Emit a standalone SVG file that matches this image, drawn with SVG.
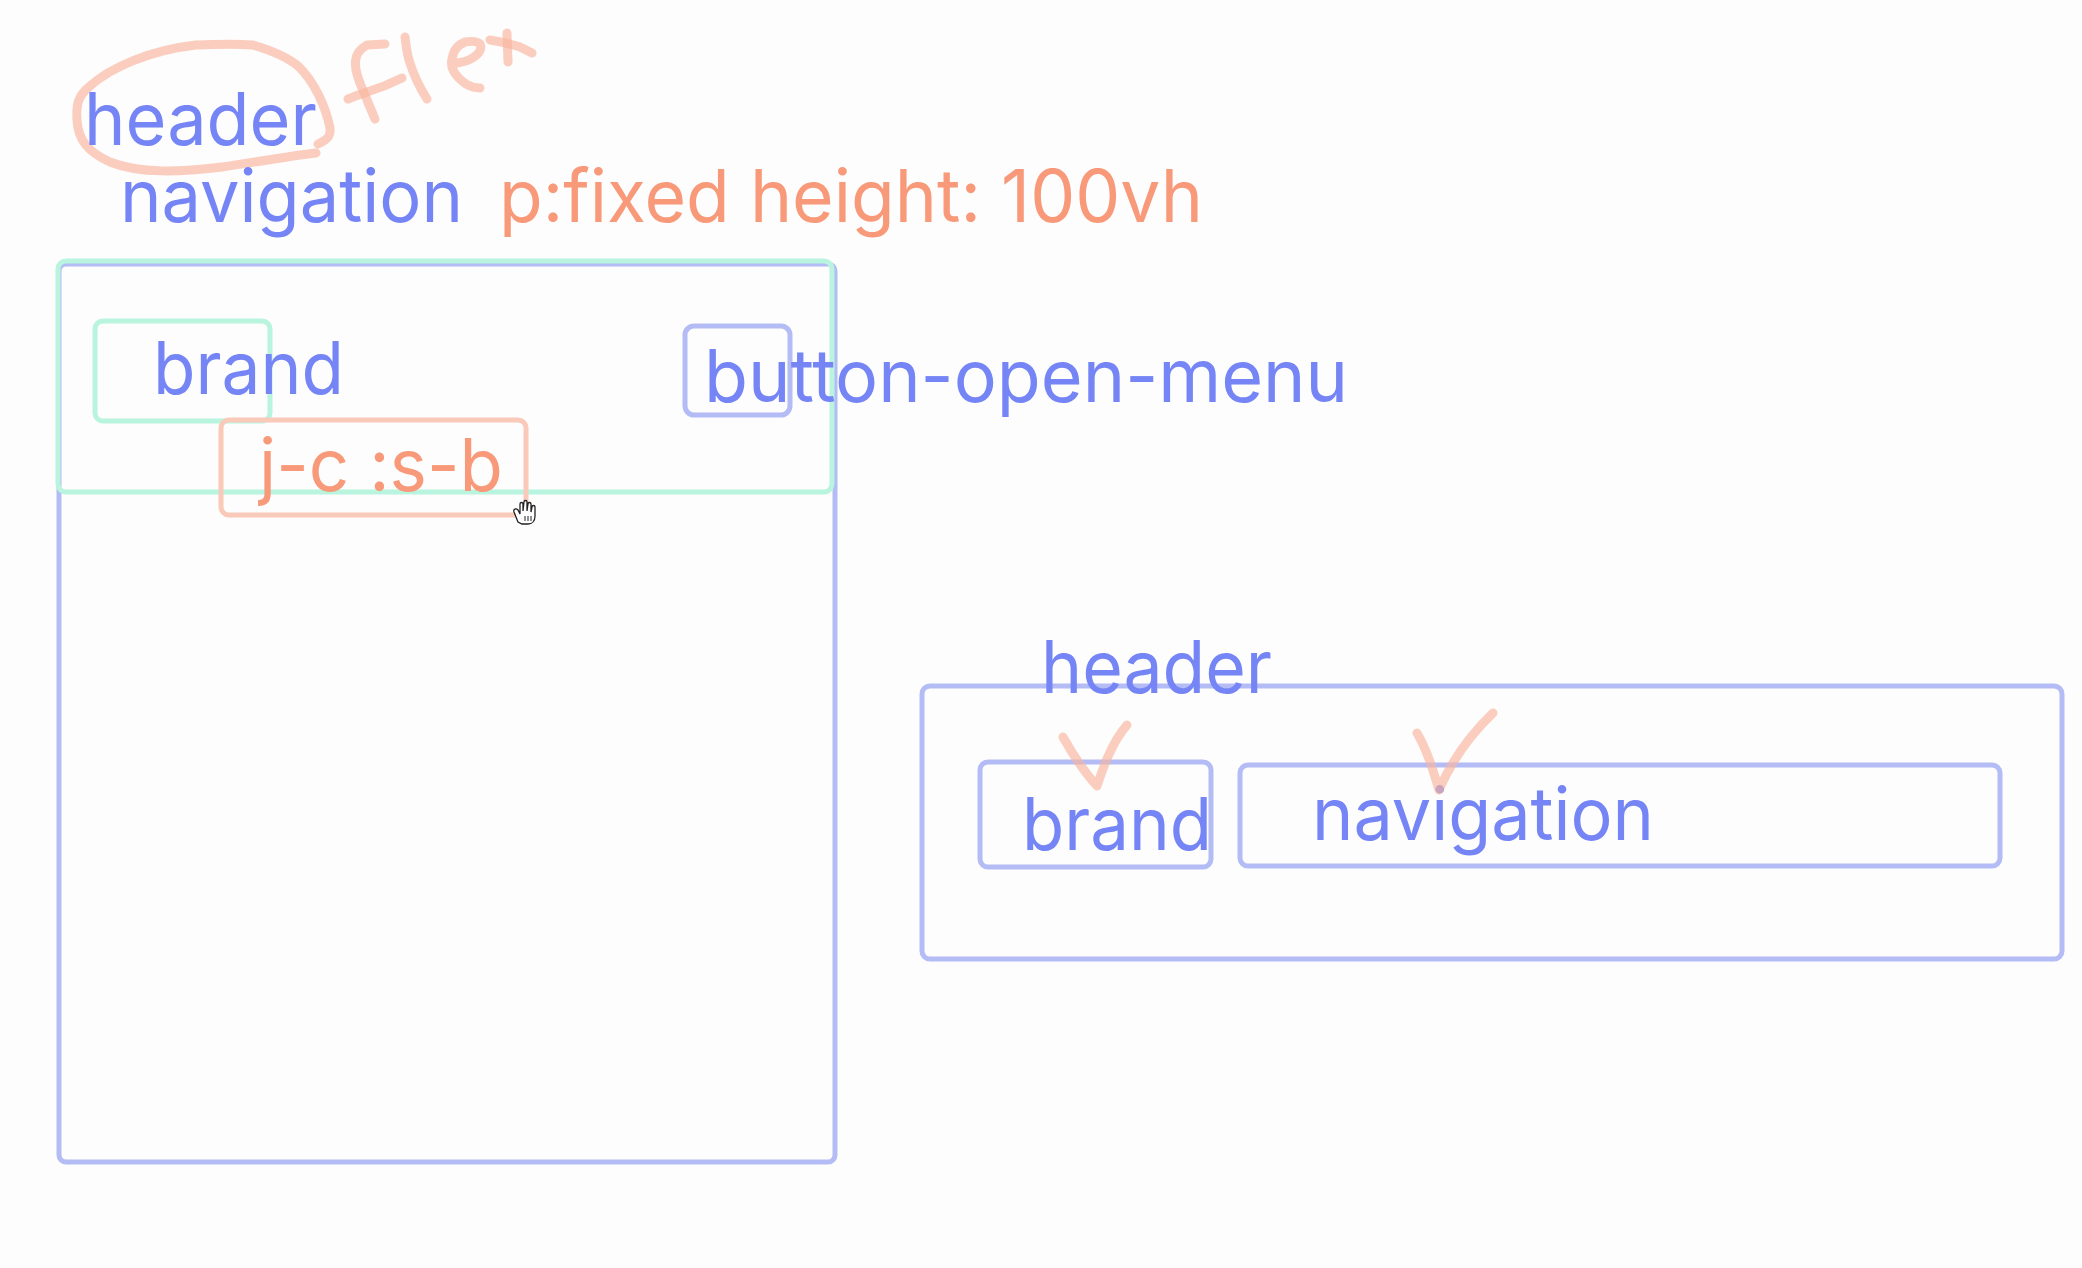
<svg xmlns="http://www.w3.org/2000/svg" width="2082" height="1268" viewBox="0 0 2082 1268">
<style>
  .t { font-family: Inter, "Liberation Sans", sans-serif; font-size: 73px; }
  .blue { fill: #7585f6; }
  .orange { fill: #f89a79; }
  .bbox { fill: none; stroke: #b3bcf5; stroke-width: 5; }
  .gbox { fill: none; stroke: #b9f4df; stroke-width: 5; }
  .obox { fill: none; stroke: #f9c9b9; stroke-width: 5; }
  .ink { fill: none; stroke: #f9b39c; stroke-opacity: 0.65; stroke-width: 9; stroke-linecap: round; stroke-linejoin: round; }
</style>
<rect width="2082" height="1268" fill="#fdfdfd"/>

<g id="annotations">
  <path class="ink" d="M316,153 C290,156 250,163 222,167 C180,172 140,174 110,162 C88,152 78,140 77,120 C76,104 78,96 90,86 C110,68 150,50 196,45 C220,44 240,44 253,45 C270,50 286,56 298,66 C315,82 326,108 330,128 C331,136 327,140 318,144"/>
  <path class="ink" d="M385,44 L367,45 C362,48 360,50 358,53 C355,58 355,64 356,70 C358,80 362,88 365,95 C369,105 372,112 375,119"/>
  <path class="ink" d="M348,99 C355,96 362,94 367,92 C380,88 392,83 402,78"/>
  <path class="ink" d="M405,37 C406,46 407,55 410,63 C414,76 420,88 427,99"/>
  <path class="ink" d="M457,63 C464,62 470,60 474,57 C480,53 482,48 480,44 C477,41 471,41 465,42 C458,45 454,50 453,55 C451,61 451,66 453,70 C456,76 460,80 466,84 C471,87 476,88 480,88"/>
  <path class="ink" d="M507,33 L508,62"/>
  <path class="ink" d="M490,40 C502,42 512,44 520,47 L532,53"/>
</g>

<g id="top-labels">
  <text class="t blue" x="84" y="145" textLength="233" lengthAdjust="spacingAndGlyphs">header</text>
  <text class="t blue" x="120" y="222" textLength="343" lengthAdjust="spacingAndGlyphs">navigation</text>
  <text class="t orange" x="499" y="222" textLength="704" lengthAdjust="spacingAndGlyphs">p:fixed height: 100vh</text>
</g>

<g id="mobile-navigation">
  <rect class="bbox" x="59" y="264" width="776" height="898" rx="7"/>
</g>
<g id="mobile-header">
  <rect class="gbox" x="58" y="261" width="774" height="231" rx="8"/>
</g>
<g id="mobile-brand">
  <rect class="gbox" x="95" y="321" width="175" height="100" rx="8"/>
  <text class="t blue" x="153" y="394" textLength="191" lengthAdjust="spacingAndGlyphs">brand</text>
</g>
<g id="button-open-menu">
  <rect class="bbox" x="685" y="326" width="105" height="89" rx="9"/>
  <text class="t blue" x="704" y="402" textLength="644" lengthAdjust="spacingAndGlyphs">button-open-menu</text>
</g>
<g id="justify-note">
  <rect class="obox" x="221" y="420" width="305" height="95" rx="8"/>
  <text class="t orange" x="259" y="491" textLength="244" lengthAdjust="spacingAndGlyphs">j-c :s-b</text>
</g>

<g id="cursor">
  <path d="M518,522 L514,512 C513,509 516,508 518,510 L520,514 L520,504 C520,502 523,502 523,504 L523,511 L524,502 C524,500 527,500 527,502 L527,511 L528,504 C528,502 531,502 531,504 L531,512 L532,507 C532,505 535,505 535,507 L535,516 C535,521 532,524 528,524 L522,524 Z" fill="#ffffff" stroke="#222" stroke-width="1.3"/>
  <path d="M525,516 L525,521 M528,516 L528,521 M531,516 L531,521" stroke="#222" stroke-width="1"/>
</g>

<g id="desktop-header">
  <rect class="bbox" x="922" y="686" width="1140" height="273" rx="8"/>
  <text class="t blue" x="1041" y="693" textLength="231" lengthAdjust="spacingAndGlyphs">header</text>
</g>
<g id="desktop-brand">
  <rect class="bbox" x="980" y="762" width="231" height="105" rx="8"/>
  <text class="t blue" x="1022" y="850" textLength="190" lengthAdjust="spacingAndGlyphs">brand</text>
</g>
<g id="desktop-navigation">
  <rect class="bbox" x="1240" y="765" width="760" height="101" rx="8"/>
  <text class="t blue" x="1312" y="840" textLength="342" lengthAdjust="spacingAndGlyphs">navigation</text>
</g>

<g id="checkmarks">
  <path class="ink" d="M1063,737 C1073,755 1087,775 1097,786 C1103,768 1112,742 1127,725"/>
  <path class="ink" d="M1417,733 C1427,750 1433,770 1439,790 C1452,760 1472,733 1493,713"/>
</g>
</svg>
